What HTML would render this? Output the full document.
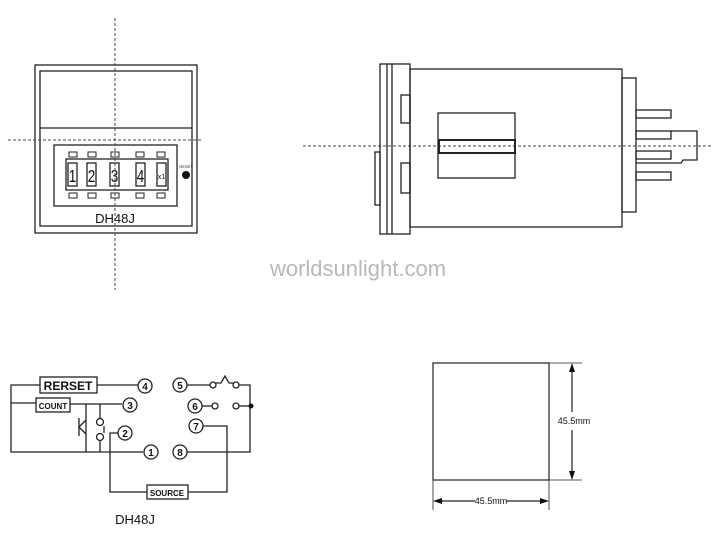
<!DOCTYPE html>
<html><head><meta charset="utf-8"><style>
html,body{margin:0;padding:0;background:#fff;width:714px;height:535px;overflow:hidden}
svg{display:block}
text{font-family:"Liberation Sans",sans-serif;fill:#111}
</style></head><body>
<svg width="714" height="535" viewBox="0 0 714 535" xmlns="http://www.w3.org/2000/svg">
<g fill="none" stroke="#222" stroke-width="1.3">
<rect x="35" y="65" width="162" height="168"/>
<rect x="40" y="71" width="152" height="155"/>
<line x1="40" y1="128" x2="192" y2="128"/>
<rect x="54" y="145" width="123" height="61"/>
<rect x="66" y="159" width="102" height="31"/>
<rect x="68" y="163" width="9" height="23"/>
<rect x="87" y="163" width="9" height="23"/>
<rect x="110" y="163" width="9" height="23"/>
<rect x="136" y="163" width="9" height="23"/>
<rect x="157" y="163" width="9" height="23"/>
<g stroke-width="1">
<rect x="69" y="152" width="8" height="5"/><rect x="88" y="152" width="8" height="5"/><rect x="111" y="152" width="8" height="5"/><rect x="136" y="152" width="8" height="5"/><rect x="157" y="152" width="8" height="5"/>
<rect x="69" y="193" width="8" height="5"/><rect x="88" y="193" width="8" height="5"/><rect x="111" y="193" width="8" height="5"/><rect x="136" y="193" width="8" height="5"/><rect x="157" y="193" width="8" height="5"/>
</g>
</g>
<circle cx="186" cy="175" r="4" fill="#111"/>
<text x="186" y="168" font-size="4" text-anchor="middle">RESET</text>
<g font-size="18" text-anchor="middle">
<text transform="translate(72.5,182) scale(0.75,1)">1</text>
<text transform="translate(91.5,182) scale(0.75,1)">2</text>
<text transform="translate(114.5,182) scale(0.75,1)">3</text>
<text transform="translate(140.5,182) scale(0.75,1)">4</text>
</g>
<text x="161.5" y="179" font-size="7" text-anchor="middle">x1</text>
<text x="115" y="223" font-size="13" text-anchor="middle">DH48J</text>
<g stroke="#444" stroke-width="1" stroke-dasharray="3,2">
<line x1="115" y1="18" x2="115" y2="290"/>
<line x1="8" y1="140" x2="202" y2="140"/>
<line x1="303" y1="146" x2="712" y2="146"/>
</g>
<g fill="none" stroke="#222" stroke-width="1.3">
<rect x="380" y="64" width="30" height="170"/>
<line x1="387" y1="64" x2="387" y2="234"/><line x1="392" y1="64" x2="392" y2="234"/>
<rect x="410" y="69" width="212" height="158"/>
<rect x="401" y="95" width="9" height="28"/><rect x="401" y="163" width="9" height="30"/>
<rect x="438" y="113" width="77" height="65"/>
<rect x="439" y="140" width="76" height="13" stroke-width="2"/>
<rect x="375" y="152" width="5" height="53"/>
<rect x="622" y="78" width="14" height="134"/>
<rect x="636" y="110" width="35" height="8"/><rect x="636" y="131" width="35" height="8"/><rect x="636" y="151" width="35" height="8"/><rect x="636" y="172" width="35" height="8"/>
<polyline points="671,131 697,131 697,160 683,160 681,163 636,163"/>
</g>
<text x="358" y="276" font-size="22" style="fill:#b8b8b8" text-anchor="middle">worldsunlight.com</text>
<g fill="none" stroke="#222" stroke-width="1.2">
<rect x="433" y="363" width="116" height="117"/>
<line x1="549" y1="363" x2="582" y2="363" stroke-width="0.8"/><line x1="549" y1="480" x2="582" y2="480" stroke-width="0.8"/>
<line x1="433" y1="480" x2="433" y2="510" stroke-width="0.8"/><line x1="549" y1="480" x2="549" y2="510" stroke-width="0.8"/>
<line x1="572" y1="366" x2="572" y2="412"/><line x1="572" y1="430" x2="572" y2="477"/>
<line x1="436" y1="501" x2="475" y2="501"/><line x1="506" y1="501" x2="546" y2="501"/>
</g>
<g fill="#111"><path d="M572,363 l-3,9 h6z"/><path d="M572,480 l-3,-9 h6z"/><path d="M433,501 l9,-3 v6z"/><path d="M549,501 l-9,-3 v6z"/></g>
<text x="574" y="424" font-size="9" text-anchor="middle">45.5mm</text>
<text x="491" y="504" font-size="9" text-anchor="middle">45.5mm</text>
<g fill="none" stroke="#222" stroke-width="1.3">
<polyline points="40,385 11,385 11,452 143,452"/>
<line x1="11" y1="403" x2="36" y2="403"/>
<rect x="40" y="377" width="57" height="16"/>
<line x1="97" y1="385" x2="138" y2="385"/>
<rect x="36" y="398" width="34" height="14"/>
<line x1="70" y1="404" x2="122" y2="404"/>
<polyline points="86,404 86,452"/>
<polyline points="86,420 79,427 86,434"/><line x1="79" y1="418" x2="79" y2="436"/>
<line x1="100" y1="404" x2="100" y2="418"/><circle cx="100" cy="422" r="3.5"/><circle cx="100" cy="437" r="3.5"/><line x1="100" y1="441" x2="100" y2="452"/>
<line x1="104" y1="426" x2="104" y2="433"/>
<polyline points="118,433 110,433 110,492 147,492"/>
<rect x="147" y="485" width="41" height="14"/>
<polyline points="188,492 227,492 227,426 203,426"/>
<circle cx="145" cy="386" r="7"/><circle cx="130" cy="405" r="7"/><circle cx="125" cy="433" r="7"/><circle cx="151" cy="452" r="7"/>
<circle cx="180" cy="385" r="7"/><circle cx="195" cy="406" r="7"/><circle cx="196" cy="426" r="7"/><circle cx="180" cy="452" r="7"/>
<line x1="187" y1="385" x2="210" y2="385"/><circle cx="213" cy="385" r="3"/><circle cx="236" cy="385" r="3"/>
<polyline points="216,383 221,383 225,376 229,383 233,383"/>
<polyline points="239,385 250,385 250,452 187,452"/>
<line x1="202" y1="406" x2="212" y2="406"/><circle cx="215" cy="406" r="3"/><circle cx="236" cy="406" r="3"/><line x1="239" y1="406" x2="250" y2="406"/>
</g>
<circle cx="251" cy="406" r="2.5" fill="#111"/>
<g font-size="10" text-anchor="middle" font-weight="bold">
<text x="145" y="390">4</text><text x="130" y="409">3</text><text x="125" y="437">2</text><text x="151" y="456">1</text>
<text x="180" y="389">5</text><text x="195" y="410">6</text><text x="196" y="430">7</text><text x="180" y="456">8</text>
</g>
<text x="68" y="390" font-size="12" text-anchor="middle" font-weight="bold">RERSET</text>
<text x="53" y="409" font-size="8" text-anchor="middle" font-weight="bold">COUNT</text>
<text x="167" y="496" font-size="8" text-anchor="middle" font-weight="bold">SOURCE</text>
<text x="135" y="524" font-size="13" text-anchor="middle">DH48J</text>
</svg>
</body></html>
